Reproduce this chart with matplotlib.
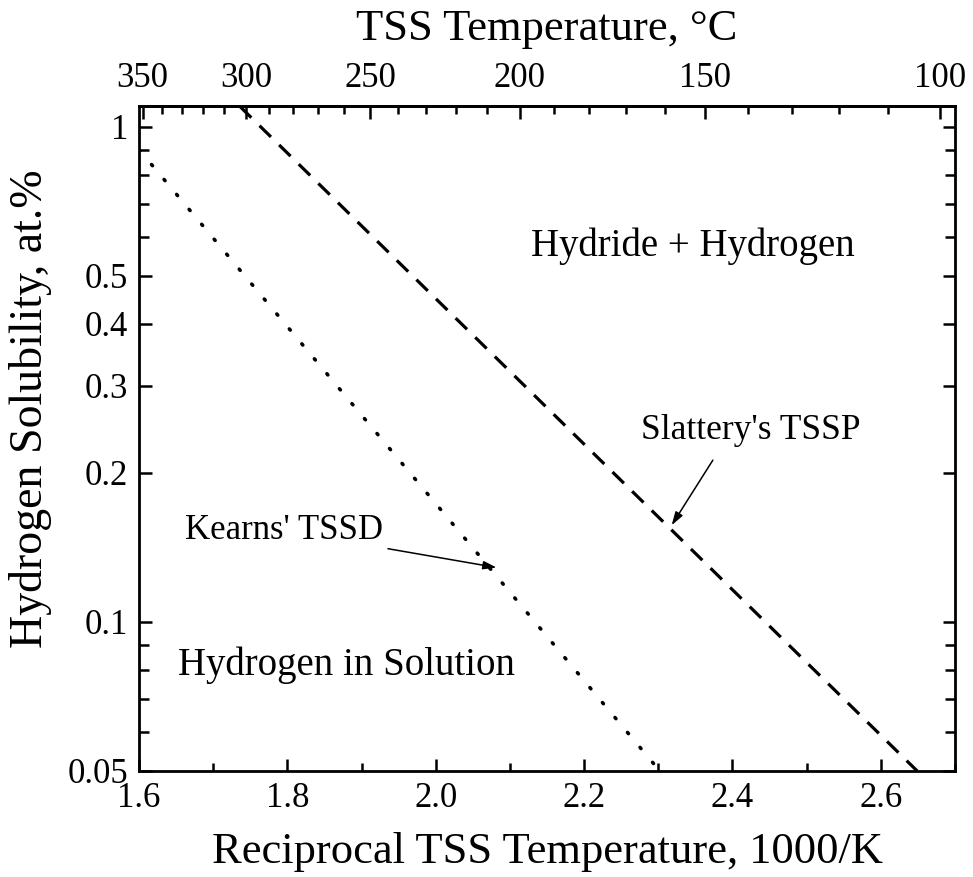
import numpy as np
import matplotlib
matplotlib.use("Agg")
import matplotlib.pyplot as plt
from matplotlib.ticker import FixedLocator, FixedFormatter, NullFormatter

# solubility limit lines (1000/K vs at.%)
tssp_x = [1.736, 2.649]
tssp_y = [1.1, 0.05]
tssd_x = [1.6, 2.302]
tssd_y = [0.9, 0.05]

# tick values
x_major = [1.6, 1.8, 2.0, 2.2, 2.4, 2.6]
x_minor = [1.7, 1.9, 2.1, 2.3, 2.5, 2.7]
y_major = [0.05, 0.1, 0.2, 0.3, 0.4, 0.5, 1]
y_labels = ["0.05", "0.1", "0.2", "0.3", "0.4", "0.5", "1"]
y_minor = [0.06, 0.07, 0.08, 0.09, 0.6, 0.7, 0.8, 0.9]
t_major = [350, 300, 250, 200, 150, 100]
t_minor = [340, 330, 320, 310, 290, 280, 270, 260, 240, 230, 220, 210,
           190, 180, 170, 160, 140, 130, 120, 110]

plt.rcParams["font.family"] = ["Liberation Serif", "DejaVu Serif"]

fig = plt.figure(figsize=(9.73, 8.77), dpi=100)
ax = fig.add_axes([0.1429, 0.1209, 0.8386, 0.7577])

ax.plot(tssp_x, tssp_y, color="black", lw=2.3, dashes=(5.0, 3.6))
ax.plot(tssd_x, tssd_y, color="black", lw=2.6, dashes=(0.4, 5.0),
        dash_capstyle="round")

ax.set_yscale("log")
ax.set_xlim(1.6, 2.7)
ax.set_ylim(0.05, 1.1)

ax.xaxis.set_major_locator(FixedLocator(x_major))
ax.xaxis.set_minor_locator(FixedLocator(x_minor))
ax.set_xticklabels(["%.1f" % v for v in x_major])
ax.yaxis.set_major_locator(FixedLocator(y_major))
ax.yaxis.set_major_formatter(FixedFormatter(y_labels))
ax.yaxis.set_minor_locator(FixedLocator(y_minor))
ax.yaxis.set_minor_formatter(NullFormatter())

ax.tick_params(which="both", direction="in", width=1.8, labelsize=25,
               top=False, right=True)
ax.tick_params(which="major", length=9)
ax.tick_params(axis="x", which="major", pad=8)
ax.tick_params(axis="y", which="major", pad=8)
ax.tick_params(axis="x", which="minor", length=5.5)
ax.tick_params(axis="y", which="minor", length=7)
for s in ax.spines.values():
    s.set_linewidth(2.0)

# top axis in deg C
top = ax.secondary_xaxis("top", functions=(lambda x: 1000.0 / x - 273.15,
                                           lambda t: 1000.0 / (t + 273.15)))
top.xaxis.set_major_locator(FixedLocator(t_major))
top.xaxis.set_minor_locator(FixedLocator(t_minor))
top.set_xticklabels([str(t) for t in t_major])
top.tick_params(which="both", direction="in", width=1.8, labelsize=25)
top.tick_params(which="major", length=9, pad=8)
top.tick_params(which="minor", length=5.5)
top.spines["top"].set_linewidth(2.0)
top.set_xlabel("TSS Temperature, \u00b0C", fontsize=32, labelpad=16)

ax.set_xlabel("Reciprocal TSS Temperature, 1000/K", fontsize=32, labelpad=12)
ax.set_ylabel("Hydrogen Solubility, at.%", fontsize=33)
ax.yaxis.set_label_coords(-0.107, 0.545)

ax.text(2.3466, 0.5736, "Hydride + Hydrogen", fontsize=28,
        ha="center", va="center")
ax.text(1.8803, 0.0818, "Hydrogen in Solution", fontsize=28,
        ha="center", va="center")
ax.text(2.425, 0.2441, "Slattery's TSSP", fontsize=25.5,
        ha="center", va="center")
ax.text(1.7954, 0.1533, "Kearns' TSSD", fontsize=25,
        ha="center", va="center")

arrow = dict(arrowstyle="-|>,head_length=0.8,head_width=0.25",
             color="black", lw=1.1, shrinkA=0, shrinkB=0)
ax.annotate("", xy=(2.318, 0.1568), xytext=(2.3736, 0.2123), arrowprops=arrow)
ax.annotate("", xy=(2.082, 0.1288), xytext=(1.9356, 0.1406), arrowprops=arrow)

fig.savefig("out.png", dpi=100)
